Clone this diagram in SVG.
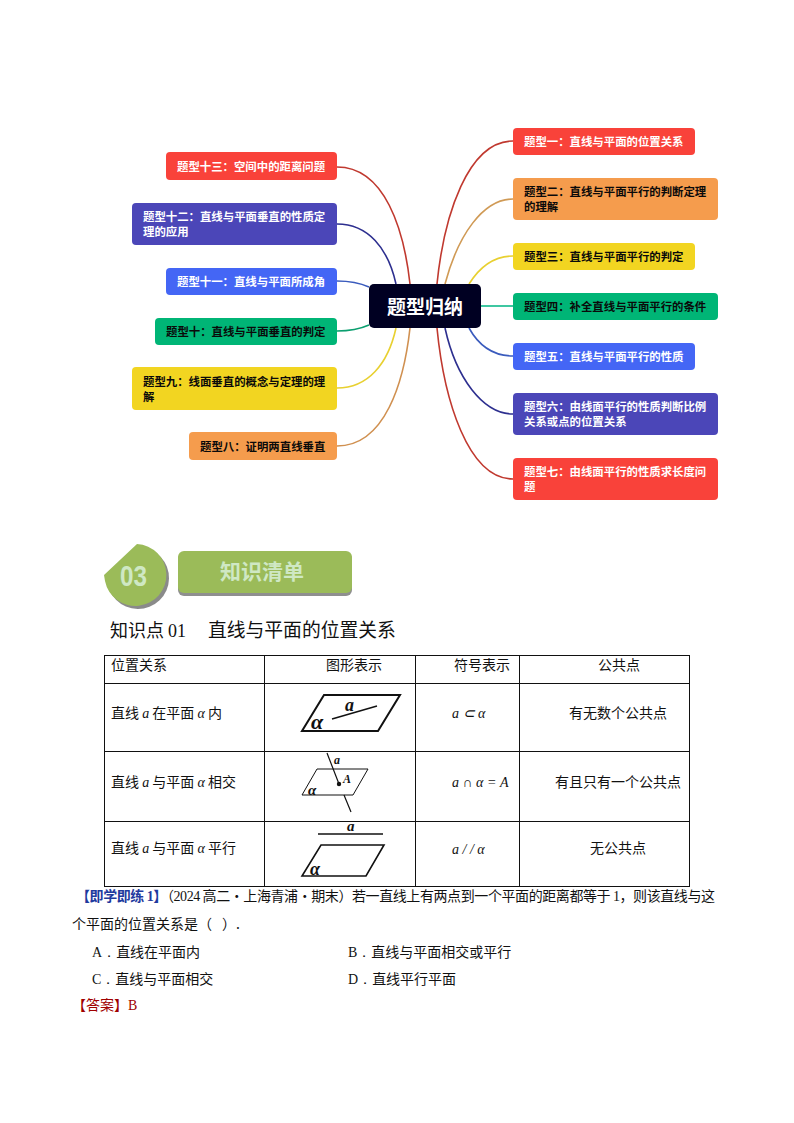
<svg xmlns="http://www.w3.org/2000/svg" width="794" height="1123" viewBox="0 0 794 1123">
<style>
text{font-family:"Noto Sans CJK SC","Liberation Sans",sans-serif}
.n{font-size:11.4px;font-weight:700}
.w{fill:#fff}.k{fill:#0a0a0a}
.red{fill:#f9423a}.org{fill:#f59c4d}.yel{fill:#f2d521}.grn{fill:#00b576}.blu{fill:#4466f5}.ind{fill:#4b46b8}
.c{fill:none;stroke-width:1.6}
.b{font-size:14px;fill:#111}
.s{font-family:"Liberation Serif",serif}
.i{font-family:"Liberation Serif",serif;font-style:italic}
.g{font-family:"Liberation Serif",serif;font-style:italic;font-weight:700;fill:#111}
.t{fill:none;stroke:#111;stroke-width:1}
.p{fill:none;stroke:#111;stroke-width:2}
.l{stroke:#111;fill:none;stroke-width:1.5}
</style>
<rect width="794" height="1123" fill="#fff"/>
<g id="connectors">
<path class="c" stroke="#c0392f" d="M337 167C385 167 404 230 410 284"/>
<path class="c" stroke="#2d2f8f" d="M337 224C368 224 388 248 396 284"/>
<path class="c" stroke="#3a5bbd" d="M337 281C350 281 360 283 369 287"/>
<path class="c" stroke="#0b9f6f" d="M337 331C350 331 360 329 369 325"/>
<path class="c" stroke="#e8d030" d="M337 388C368 388 388 364 396 328"/>
<path class="c" stroke="#d09050" d="M337 446C385 446 404 382 410 328"/>
<path class="c" stroke="#c0392f" d="M513 141C468 141 444 215 437 284"/>
<path class="c" stroke="#d09a55" d="M513 199C483 199 458 235 445 284"/>
<path class="c" stroke="#e8d030" d="M513 256C493 256 479 268 469 284"/>
<path class="c" stroke="#0fb98a" d="M481 306H513"/>
<path class="c" stroke="#3a5bbd" d="M469 328C479 346 493 356 513 356"/>
<path class="c" stroke="#2d2f8f" d="M445 328C456 378 483 414 513 414"/>
<path class="c" stroke="#c0392f" d="M437 328C444 400 468 479 513 479"/>
</g>
<g id="center"><rect x="369" y="284" width="112" height="44" rx="5" fill="#000022"/><text x="387" y="314" font-size="19" font-weight="700" fill="#fff">题型归纳</text></g>
<g id="t13"><rect class="red" x="166" y="152" width="171" height="28" rx="4"/><text class="n w" x="177" y="171">题型十三：空间中的距离问题</text></g>
<g id="t12"><rect class="ind" x="132" y="203" width="205" height="42" rx="4"/><text class="n w" x="143" y="221">题型十二：直线与平面垂直的性质定</text><text class="n w" x="143" y="236">理的应用</text></g>
<g id="t11"><rect class="blu" x="166" y="268" width="171" height="27" rx="4"/><text class="n w" x="177" y="286">题型十一：直线与平面所成角</text></g>
<g id="t10"><rect class="grn" x="155" y="318" width="182" height="27" rx="4"/><text class="n k" x="166" y="336">题型十：直线与平面垂直的判定</text></g>
<g id="t9"><rect class="yel" x="132" y="367" width="205" height="43" rx="4"/><text class="n k" x="143" y="386">题型九：线面垂直的概念与定理的理</text><text class="n k" x="143" y="401">解</text></g>
<g id="t8"><rect class="org" x="189" y="432" width="148" height="28" rx="4"/><text class="n k" x="200" y="451">题型八：证明两直线垂直</text></g>
<g id="t1"><rect class="red" x="513" y="128" width="182" height="27" rx="4"/><text class="n w" x="524" y="146">题型一：直线与平面的位置关系</text></g>
<g id="t2"><rect class="org" x="513" y="178" width="205" height="42" rx="4"/><text class="n k" x="524" y="196">题型二：直线与平面平行的判断定理</text><text class="n k" x="524" y="211">的理解</text></g>
<g id="t3"><rect class="yel" x="513" y="243" width="182" height="27" rx="4"/><text class="n k" x="524" y="261">题型三：直线与平面平行的判定</text></g>
<g id="t4"><rect class="grn" x="513" y="293" width="205" height="27" rx="4"/><text class="n k" x="524" y="311">题型四：补全直线与平面平行的条件</text></g>
<g id="t5"><rect class="blu" x="513" y="343" width="182" height="27" rx="4"/><text class="n w" x="524" y="361">题型五：直线与平面平行的性质</text></g>
<g id="t6"><rect class="ind" x="513" y="393" width="205" height="42" rx="4"/><text class="n w" x="524" y="411">题型六：由线面平行的性质判断比例</text><text class="n w" x="524" y="426">关系或点的位置关系</text></g>
<g id="t7"><rect class="red" x="513" y="458" width="205" height="42" rx="4"/><text class="n w" x="524" y="476">题型七：由线面平行的性质求长度问</text><text class="n w" x="524" y="491">题</text></g>

<g id="badge">
<path d="M106 577L138 546A31 31 0 1 1 106 577Z" fill="#8a8a8a" transform="translate(1,1)"/>
<path d="M104 575L137 544A31 31 0 1 1 105 581Z" fill="#9bbb59"/>
<text x="120" y="586" font-size="29" font-weight="700" fill="#cfe8c4" textLength="27" lengthAdjust="spacingAndGlyphs" style="font-family:'Liberation Sans',sans-serif">03</text>
<rect x="178" y="553" width="174" height="43" rx="6" fill="#8f8f8f"/>
<rect x="178" y="551" width="174" height="42" rx="6" fill="#9bbb59"/>
<text x="220" y="579" font-size="21" font-weight="700" fill="#cfe8c4">知识清单</text>
</g>
<text x="110" y="637" font-size="18" fill="#111">知识点 <tspan class="s">01</tspan></text>
<text x="208" y="637" font-size="18.8" fill="#111">直线与平面的位置关系</text>

<g id="table">
<rect class="t" x="104.500" y="655.500" width="585" height="231"/>
<path class="t" d="M104 683.500H690M104 751.500H690M104 821.500H690M264.500 655V887M415.500 655V887M519.500 655V887"/>
<text class="b" x="111" y="670">位置关系</text><text class="b" x="326" y="670">图形表示</text><text class="b" x="454" y="670">符号表示</text><text class="b" x="598" y="670">公共点</text>
<text class="b" x="111" y="718">直线 <tspan class="i">a</tspan> 在平面 <tspan class="i">α</tspan> 内</text>
<text class="b" x="111" y="787">直线 <tspan class="i">a</tspan> 与平面 <tspan class="i">α</tspan> 相交</text>
<text class="b" x="111" y="853">直线 <tspan class="i">a</tspan> 与平面 <tspan class="i">α</tspan> 平行</text>
<text class="b i" x="452" y="718">a ⊂ α</text>
<text class="b i" x="452" y="787">a ∩ α = A</text>
<text class="b i" x="452" y="854">a / / α</text>
<text class="b" x="569" y="718">有无数个公共点</text>
<text class="b" x="555" y="787">有且只有一个公共点</text>
<text class="b" x="590" y="853">无公共点</text>
</g>
<g id="fig1"><path class="p" d="M302 731H378L400 695H324Z"/><path class="l" d="M332 719L377 706"/><text class="g" x="345" y="711" font-size="18">a</text><text class="g" x="311" y="729" font-size="22">α</text></g>
<g id="fig2"><path class="t" stroke-width="1.2" d="M302 795H353L368 769H317Z"/><path class="l" style="stroke-width:1.2" d="M327 753L339 784M344 795L351 812"/><circle cx="339" cy="784" r="2.200" fill="#111"/><text class="g" x="334" y="764" font-size="12">a</text><text class="g" x="343" y="783" font-size="12">A</text><text class="g" x="308" y="795" font-size="15">α</text></g>
<g id="fig3"><path class="l" d="M318 834H383"/><path class="p" style="stroke-width:1.6" d="M302 876H366L384 845H321Z"/><text class="g" x="347" y="831" font-size="15">a</text><text class="g" x="310" y="875" font-size="18">α</text></g>

<g id="question">
<text class="b" x="76" y="901" textLength="639"><tspan fill="#1f3a9e" font-weight="700">【即学即练 <tspan class="s">1</tspan>】</tspan>（<tspan class="s">2024</tspan> 高二·上海青浦·期末）若一直线上有两点到一个平面的距离都等于 <tspan class="s">1</tspan>，则该直线与这</text>
<text class="b" x="72" y="929">个平面的位置关系是（<tspan x="222">）.</tspan></text>
<text class="b" x="92" y="957"><tspan class="s">A．</tspan>直线在平面内</text>
<text class="b" x="348" y="957"><tspan class="s">B．</tspan>直线与平面相交或平行</text>
<text class="b" x="92" y="984"><tspan class="s">C．</tspan>直线与平面相交</text>
<text class="b" x="348" y="984"><tspan class="s">D．</tspan>直线平行平面</text>
<text class="b" x="72" y="1010" style="fill:#a00000">【答案】<tspan class="s">B</tspan></text>
</g>
</svg>
